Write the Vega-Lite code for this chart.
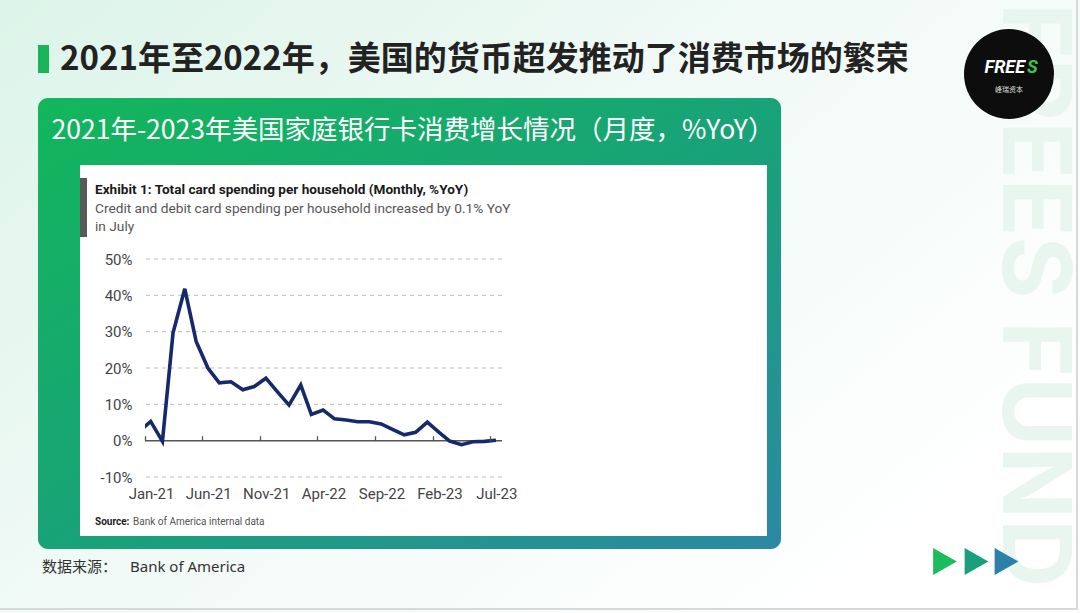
{
  "$schema": "https://vega.github.io/schema/vega-lite/v6.json",
  "width": 357,
  "height": 218,
  "autosize": {"type": "none"},
  "padding": {"left": 145, "top": 259, "right": 578, "bottom": 136},
  "background": "#ffffff",
  "config": {"view": {"stroke": null}, "font": "Roboto"},
  "layer": [
    {
      "data": {"values": [{}]},
      "mark": {"type": "rect", "x": -145, "y": -259, "x2": 935, "y2": 354,
        "fill": {"gradient": "linear", "x1": 0, "y1": 0, "x2": 1, "y2": 0.7,
          "stops": [{"offset": 0, "color": "#dcf4e9"}, {"offset": 0.45, "color": "#eff9f5"}, {"offset": 1, "color": "#ffffff"}]}}
    },
    {
      "data": {"values": [{}]},
      "mark": {"type": "rect", "x": 931, "y": -259, "x2": 933, "y2": 351, "fill": "#d6d9d8"}
    },
    {
      "data": {"values": [{}]},
      "mark": {"type": "rect", "x": -145, "y": 349, "x2": 933, "y2": 351, "fill": "#d6d9d8"}
    },
    {
      "data": {"values": [{}]},
      "mark": {"type": "text", "text": "FREES FUND", "x": 858, "y": -256, "angle": 90, "align": "left", "baseline": "alphabetic",
        "font": "Inter", "fontWeight": "bold", "fontSize": 95, "fill": "#e9f6f0"}
    },
    {
      "data": {"values": [{}]},
      "mark": {"type": "point", "shape": "circle", "filled": true, "x": 864, "y": -185, "size": 8100, "fill": "#0d0d0d", "opacity": 1}
    },
    {
      "data": {"values": [{}]},
      "mark": {"type": "text", "text": "FREE", "x": 880, "y": -191, "align": "right", "baseline": "middle",
        "font": "Roboto", "fontStyle": "italic", "fontWeight": "bold", "fontSize": 18, "fill": "#ffffff"}
    },
    {
      "data": {"values": [{}]},
      "mark": {"type": "text", "text": "S", "x": 882, "y": -191, "align": "left", "baseline": "middle",
        "font": "Roboto", "fontStyle": "italic", "fontWeight": "bold", "fontSize": 18, "fill": "#3cc44b"}
    },
    {
      "data": {"values": [{}]},
      "mark": {"type": "text", "text": "峰瑞资本", "x": 864, "y": -169, "align": "center", "baseline": "middle",
        "font": "Noto Sans CJK SC", "fontSize": 7, "fill": "#dddddd"}
    },
    {
      "data": {"values": [{}]},
      "mark": {"type": "rect", "x": -107, "y": -214, "x2": -96, "y2": -186, "fill": "#17b45a"}
    },
    {
      "data": {"values": [{}]},
      "mark": {"type": "text", "text": "2021年至2022年，美国的货币超发推动了消费市场的繁荣", "x": -85, "y": -199,
        "align": "left", "baseline": "middle", "font": "Noto Sans CJK SC", "fontWeight": "bold", "fontSize": 33, "fill": "#222222"}
    },
    {
      "data": {"values": [{}]},
      "mark": {"type": "rect", "x": -107, "y": -161, "x2": 636, "y2": 290, "cornerRadius": 10,
        "fill": {"gradient": "linear", "x1": 0, "y1": 0, "x2": 1, "y2": 1,
          "stops": [{"offset": 0, "color": "#12b65b"}, {"offset": 0.55, "color": "#19a17a"}, {"offset": 1, "color": "#2b88a3"}]}}
    },
    {
      "data": {"values": [{}]},
      "mark": {"type": "text", "text": "2021年-2023年美国家庭银行卡消费增长情况（月度，%YoY）", "x": 268, "y": -128,
        "align": "center", "baseline": "middle", "font": "Noto Sans CJK SC", "fontSize": 26.5, "fill": "#ffffff"}
    },
    {
      "data": {"values": [{}]},
      "mark": {"type": "rect", "x": -65, "y": -94, "x2": 622, "y2": 277, "fill": "#ffffff"}
    },
    {
      "data": {"values": [{}]},
      "mark": {"type": "rect", "x": -65, "y": -81, "x2": -58, "y2": -22, "fill": "#595959"}
    },
    {
      "data": {"values": [{}]},
      "mark": {"type": "text", "text": "Exhibit 1: Total card spending per household (Monthly, %YoY)", "x": -50, "y": -69,
        "align": "left", "baseline": "middle", "font": "Roboto", "fontWeight": "bold", "fontSize": 13.6, "fill": "#1a1a1a"}
    },
    {
      "data": {"values": [{}]},
      "mark": {"type": "text", "text": "Credit and debit card spending per household increased by 0.1% YoY", "x": -50, "y": -50,
        "align": "left", "baseline": "middle", "font": "Roboto", "fontSize": 13.7, "fill": "#555555"}
    },
    {
      "data": {"values": [{}]},
      "mark": {"type": "text", "text": "in July", "x": -50, "y": -32,
        "align": "left", "baseline": "middle", "font": "Roboto", "fontSize": 13.7, "fill": "#555555"}
    },
    {
      "data": {"values": [{"g": -10}, {"g": 10}, {"g": 20}, {"g": 30}, {"g": 40}, {"g": 50}]},
      "mark": {"type": "rule", "stroke": "#bdbdbd", "strokeWidth": 1, "strokeDash": [4, 4]},
      "encoding": {
        "y": {"field": "g", "type": "quantitative", "scale": {"domain": [-10, 50], "nice": false, "zero": false},
          "axis": {"title": null, "values": [-10, 0, 10, 20, 30, 40, 50], "labelExpr": "datum.value + '%'", "domain": false, "ticks": false, "grid": false,
            "labelPadding": 13, "labelFontSize": 15, "labelColor": "#444444", "labelFont": "Roboto", "zindex": 1}}
      }
    },
    {
      "data": {"values": [{}]},
      "mark": {"type": "rule", "stroke": "#555555", "strokeWidth": 1.5},
      "encoding": {
        "y": {"datum": 0, "type": "quantitative", "scale": {"domain": [-10, 50], "nice": false, "zero": false},
          "axis": {"title": null, "values": [-10, 0, 10, 20, 30, 40, 50], "labelExpr": "datum.value + '%'", "domain": false, "ticks": false, "grid": false,
            "labelPadding": 13, "labelFontSize": 15, "labelColor": "#444444", "labelFont": "Roboto", "zindex": 1}}
      }
    },
    {
      "data": {"values": [
        {"month": "2020-12-16", "yoy": 2.5},
        {"month": "2021-01-16", "yoy": 5.3},
        {"month": "2021-02-16", "yoy": -0.2},
        {"month": "2021-03-16", "yoy": 29.7},
        {"month": "2021-04-16", "yoy": 41.8},
        {"month": "2021-05-16", "yoy": 27.3},
        {"month": "2021-06-16", "yoy": 20.0},
        {"month": "2021-07-16", "yoy": 15.9},
        {"month": "2021-08-16", "yoy": 16.2},
        {"month": "2021-09-16", "yoy": 14.0},
        {"month": "2021-10-16", "yoy": 14.9},
        {"month": "2021-11-16", "yoy": 17.2},
        {"month": "2021-12-16", "yoy": 13.5},
        {"month": "2022-01-16", "yoy": 9.8},
        {"month": "2022-02-16", "yoy": 15.3},
        {"month": "2022-03-16", "yoy": 7.2},
        {"month": "2022-04-16", "yoy": 8.4},
        {"month": "2022-05-16", "yoy": 6.0},
        {"month": "2022-06-16", "yoy": 5.7},
        {"month": "2022-07-16", "yoy": 5.2},
        {"month": "2022-08-16", "yoy": 5.2},
        {"month": "2022-09-16", "yoy": 4.6},
        {"month": "2022-10-16", "yoy": 3.1},
        {"month": "2022-11-16", "yoy": 1.6},
        {"month": "2022-12-16", "yoy": 2.3},
        {"month": "2023-01-16", "yoy": 5.1},
        {"month": "2023-02-16", "yoy": 2.3},
        {"month": "2023-03-16", "yoy": -0.1},
        {"month": "2023-04-16", "yoy": -1.1},
        {"month": "2023-05-16", "yoy": -0.3},
        {"month": "2023-06-16", "yoy": -0.2},
        {"month": "2023-07-16", "yoy": 0.1}
      ]},
      "mark": {"type": "line", "stroke": "#16296a", "strokeWidth": 3.6, "clip": true, "strokeJoin": "miter"},
      "encoding": {
        "x": {"field": "month", "type": "temporal",
          "scale": {"type": "utc", "domain": [{"year": 2021, "month": 1, "date": 1, "utc": true}, {"year": 2023, "month": 8, "date": 1, "utc": true}], "nice": false},
          "axis": {"title": null, "orient": "bottom", "offset": -36.3, "format": "%b-%y",
            "values": [
              {"year": 2021, "month": 1, "date": 1, "utc": true},
              {"year": 2021, "month": 6, "date": 1, "utc": true},
              {"year": 2021, "month": 11, "date": 1, "utc": true},
              {"year": 2022, "month": 4, "date": 1, "utc": true},
              {"year": 2022, "month": 9, "date": 1, "utc": true},
              {"year": 2023, "month": 2, "date": 1, "utc": true},
              {"year": 2023, "month": 7, "date": 1, "utc": true}
            ],
            "domain": false, "ticks": true, "tickSize": -5, "tickColor": "#555555", "tickWidth": 1.3,
            "labelPadding": 51, "labelOffset": 6, "labelFlush": false, "labelOverlap": false,
            "labelFontSize": 15, "labelColor": "#444444", "labelFont": "Roboto", "grid": false, "zindex": 1}},
        "y": {"field": "yoy", "type": "quantitative", "scale": {"domain": [-10, 50], "nice": false, "zero": false},
          "axis": {"title": null, "values": [-10, 0, 10, 20, 30, 40, 50], "labelExpr": "datum.value + '%'", "domain": false, "ticks": false, "grid": false,
            "labelPadding": 13, "labelFontSize": 15, "labelColor": "#444444", "labelFont": "Roboto", "zindex": 1}}
      }
    },
    {
      "data": {"values": [{}]},
      "mark": {"type": "text", "text": "Source:", "x": -50, "y": 263, "align": "left", "baseline": "middle",
        "font": "Roboto", "fontWeight": "bold", "fontSize": 10, "fill": "#222222"}
    },
    {
      "data": {"values": [{}]},
      "mark": {"type": "text", "text": "Bank of America internal data", "x": -12, "y": 263, "align": "left", "baseline": "middle",
        "font": "Roboto", "fontSize": 10, "fill": "#555555"}
    },
    {
      "data": {"values": [{}]},
      "mark": {"type": "text", "text": "数据来源：", "x": -103, "y": 308, "align": "left", "baseline": "middle",
        "font": "Noto Sans CJK SC", "fontSize": 15, "fill": "#333333"}
    },
    {
      "data": {"values": [{}]},
      "mark": {"type": "text", "text": "Bank of America", "x": -15, "y": 308, "align": "left", "baseline": "middle",
        "font": "Noto Sans", "fontSize": 15, "fill": "#333333"}
    },
    {
      "data": {"values": [{}]},
      "mark": {"type": "point", "shape": "M-0.88,-1L0.88,0L-0.88,1Z", "filled": true, "x": 800, "y": 302.5, "size": 729, "fill": "#1cbb5d", "opacity": 1}
    },
    {
      "data": {"values": [{}]},
      "mark": {"type": "point", "shape": "M-0.88,-1L0.88,0L-0.88,1Z", "filled": true, "x": 831.5, "y": 302.5, "size": 729, "fill": "#1a9f7c", "opacity": 1}
    },
    {
      "data": {"values": [{}]},
      "mark": {"type": "point", "shape": "M-0.88,-1L0.88,0L-0.88,1Z", "filled": true, "x": 861.5, "y": 302.5, "size": 729, "fill": "#2a80a9", "opacity": 1}
    }
  ]
}
